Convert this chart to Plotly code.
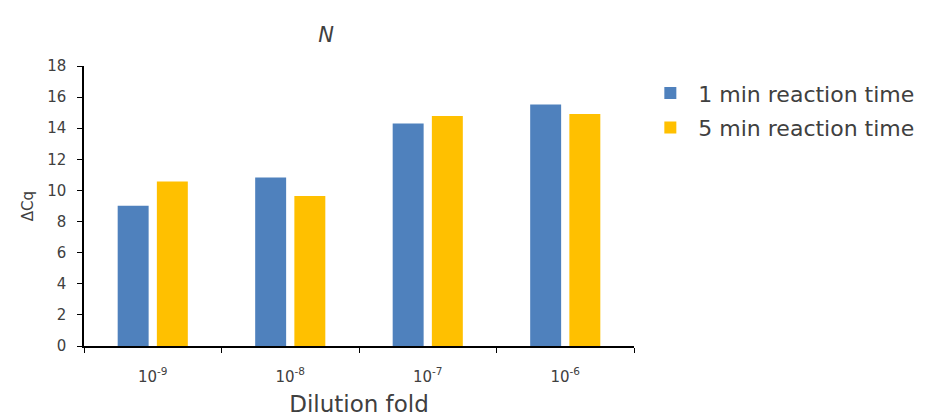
import plotly.graph_objects as go

categories = ["10<sup>-9</sup>", "10<sup>-8</sup>", "10<sup>-7</sup>", "10<sup>-6</sup>"]
series_names = ["1 min reaction time", "5 min reaction time"]
one_min = [9.02, 10.84, 14.31, 15.53]
five_min = [10.58, 9.64, 14.78, 14.91]
colors = ["#4F81BD", "#FFC000"]
y_ticks = [0, 2, 4, 6, 8, 10, 12, 14, 16, 18]

font_family = "DejaVu Sans, sans-serif"

fig = go.Figure()
for name, vals, col in zip(series_names, [one_min, five_min], colors):
    fig.add_trace(go.Bar(x=categories, y=vals, name=name, marker_color=col,
                         marker_line_width=0, showlegend=False))
for i, (name, col) in enumerate(zip(series_names, colors)):
    fig.add_trace(go.Scatter(x=[None], y=[None], mode="markers", name=name,
                             legendgroup=f"g{i}",
                             marker=dict(symbol="square", size=8, color=col)))

fig.update_layout(
    width=922, height=409,
    margin=dict(l=76, r=296, t=58, b=71, autoexpand=False),
    paper_bgcolor="white", plot_bgcolor="white",
    barmode="group", bargap=0.43, bargroupgap=0.21,
    font=dict(family=font_family, color="#404040", size=15),
    title=dict(text="<i>N</i>", x=0.44, xref="paper", xanchor="center",
               y=0.934, yref="container", yanchor="middle",
               font=dict(size=21, color="#404040")),
    legend=dict(x=0.688, xref="container", y=0.843, yref="container",
                xanchor="left", yanchor="top",
                font=dict(size=22, color="#404040"), itemsizing="constant",
                tracegroupgap=3, itemwidth=46),
    xaxis=dict(showline=True, linecolor="black", linewidth=1.5,
               ticks="outside", ticklen=5, tickcolor="black", tickson="boundaries",
               tickfont=dict(size=15), showgrid=False, automargin=False,
               ticklabelstandoff=16,
               title=dict(text="Dilution fold", font=dict(size=23), standoff=12)),
    yaxis=dict(range=[0, 18], tickvals=y_ticks, showline=True, linecolor="black",
               linewidth=1.5, ticks="outside", ticklen=5, tickcolor="black",
               showgrid=False, zeroline=False, tickfont=dict(size=15),
               automargin=False, ticklabelstandoff=8,
               title=dict(text="ΔCq", font=dict(size=15), standoff=10)),
)

fig.write_html("out.html")
